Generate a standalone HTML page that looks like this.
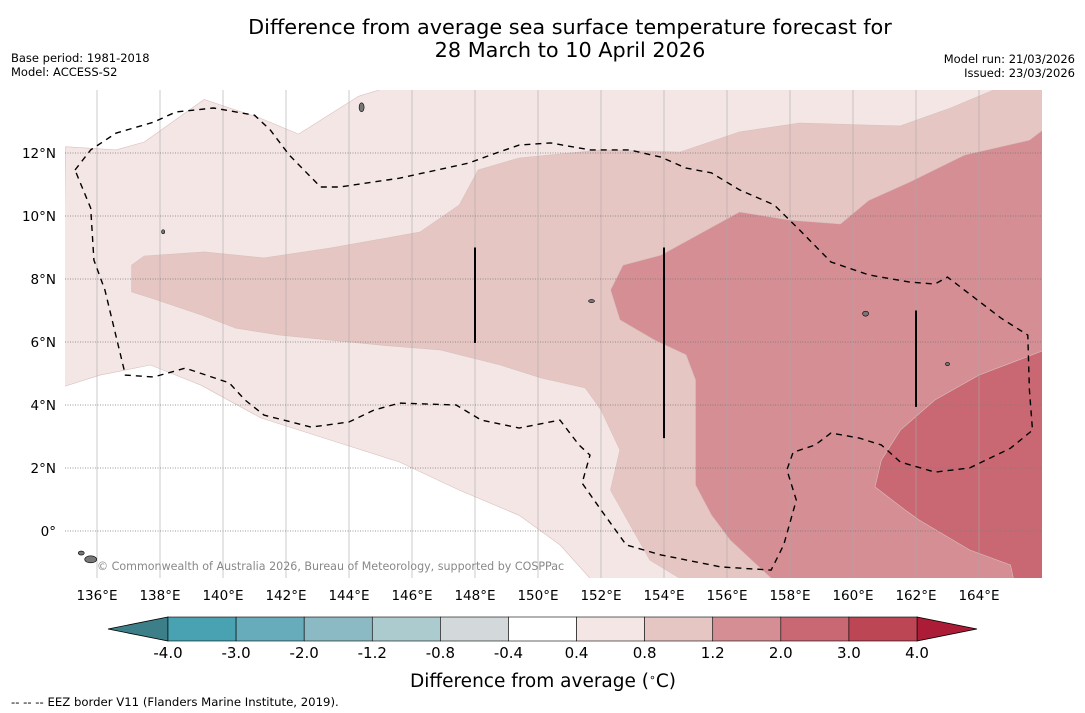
<!DOCTYPE html>
<html><head><meta charset="utf-8"><style>
html,body{margin:0;padding:0;background:#fff;}
body{width:1085px;height:713px;overflow:hidden;font-family:"DejaVu Sans","Liberation Sans",sans-serif;}
svg{display:block}
</style></head><body>
<svg id="chart" width="1085" height="713" viewBox="0 0 1085 713" xmlns="http://www.w3.org/2000/svg">
<text x="570" y="34" text-anchor="middle" font-size="20.8" fill="#000">Difference from average sea surface temperature forecast for</text>
<text x="570" y="57" text-anchor="middle" font-size="20.8" fill="#000">28 March to 10 April 2026</text>
<text x="11" y="62" font-size="11.5">Base period: 1981-2018</text>
<text x="11" y="76" font-size="11.5">Model: ACCESS-S2</text>
<text x="1075" y="63" text-anchor="end" font-size="11.5">Model run: 21/03/2026</text>
<text x="1075" y="77" text-anchor="end" font-size="11.5">Issued: 23/03/2026</text>
<defs><clipPath id="mapclip"><rect x="65" y="90" width="977" height="488"/></clipPath></defs>
<g id="map" clip-path="url(#mapclip)"></g>
<g id="axes"></g>
<g id="cbar"></g>
<text x="543" y="687" text-anchor="middle" font-size="18.5">Difference from average (<tspan font-size="11" dy="-6">∘</tspan><tspan dy="6">C)</tspan></text>
<text x="11" y="706" font-size="11.7">--  --  -- EEZ border V11 (Flanders Marine Institute, 2019).</text>
</svg>
<script>
const lonTicks=[136,138,140,142,144,146,148,150,152,154,156,158,160,162,164];
const latTicks=[0,2,4,6,8,10,12];
const latLabels=["0°","2°N","4°N","6°N","8°N","10°N","12°N"];
const cbarLevels=["-4.0","-3.0","-2.0","-1.2","-0.8","-0.4","0.4","0.8","1.2","2.0","3.0","4.0"];
const cbarColors=["#48a2b2","#66acba","#8bb9c4","#abcbcf","#d3d8da","#ffffff","#f4e6e5","#e6c6c2","#d48e94","#c96872","#bd4655"];
const lowColor="#3d7f88", highColor="#ad1c37";
const lightBand=[[135,12.2],[136.6,12.1],[137.5,12.35],[139.4,13.7],[141.2,13.1],[142.4,12.6],[144.3,13.8],[145.6,14.2],[166.5,14.2],[166.5,-2],[151.8,-2],[151.65,-1.5],[150.7,-0.44],[149.4,0.5],[147.5,1.3],[145.6,2.19],[143.4,2.89],[141.2,3.59],[139.3,4.63],[137.7,5.27],[136.1,4.95],[134.9,4.57]];
const medBand=[[137.1,8.44],[137.5,8.73],[139.4,8.86],[141.3,8.67],[143.4,8.98],[146.25,9.49],[147.5,10.35],[148.1,11.46],[149.4,11.84],[152.0,12.1],[154.5,12.03],[156.4,12.67],[158.3,12.95],[161.5,12.86],[163.1,13.43],[164.7,14.1],[166.5,14.2],[166.5,-2],[154.6,-2],[154.5,-1.5],[153.55,-0.92],[152.3,1.3],[152.6,2.57],[152.0,3.84],[151.5,4.54],[150.1,4.86],[148.8,5.27],[146.9,5.75],[145.0,5.9],[143.4,6.06],[141.8,6.22],[140.4,6.44],[139.3,6.86],[137.7,7.4],[137.1,7.59]];
const darkBand=[[152.3,7.65],[152.7,8.44],[153.9,8.76],[156.4,10.13],[158.0,9.87],[159.6,9.75],[160.5,10.5],[161.8,11.08],[163.55,11.94],[165.6,12.41],[166.5,13.1],[166.5,-2],[157.5,-2],[157.4,-1.5],[156.1,-0.29],[155.5,0.51],[155.0,1.46],[155.0,4.79],[154.7,5.59],[153.7,6.06],[152.6,6.7]];
const darkestBand=[[160.7,1.4],[160.9,2.25],[161.5,3.2],[162.6,4.16],[164.0,4.95],[166.5,5.9],[166.5,-2],[165.2,-2],[165.0,-1.08],[163.7,-0.6],[162.1,0.35],[161.65,0.67]];
const eez=[[135.3,11.46],[135.8,12.1],[136.6,12.63],[137.8,12.98],[138.5,13.3],[139.7,13.43],[141.0,13.2],[141.5,12.73],[142.1,11.94],[143.1,10.92],[143.7,10.92],[145.6,11.2],[147.8,11.68],[148.5,11.94],[149.4,12.25],[150.4,12.32],[151.65,12.1],[152.9,12.1],[153.9,11.87],[154.7,11.52],[155.5,11.37],[156.4,10.83],[157.5,10.35],[158.3,9.56],[159.3,8.54],[160.5,8.13],[161.8,7.9],[162.6,7.84],[163.0,8.06],[164.7,6.76],[165.55,6.22],[165.6,4.48],[165.7,3.2],[165.0,2.63],[163.7,2.0],[162.6,1.87],[161.5,2.19],[160.9,2.73],[160.2,2.95],[159.3,3.11],[158.8,2.73],[158.1,2.5],[157.9,1.94],[158.2,0.98],[157.8,-0.44],[157.4,-1.24],[155.8,-1.14],[153.9,-0.76],[152.8,-0.44],[152.0,0.67],[151.4,1.52],[151.65,2.41],[151.3,2.73],[150.7,3.52],[149.4,3.27],[148.2,3.52],[147.4,4.0],[145.6,4.06],[144.8,3.84],[144.0,3.46],[142.8,3.3],[141.3,3.68],[140.7,4.16],[140.2,4.7],[138.8,5.17],[137.8,4.89],[136.9,4.95],[136.25,7.65],[135.9,8.6],[135.8,10.25],[135.3,11.46]];
const barLons=[148,154,162];
const barTops=[9.0,9.0,7.0];
const barBottoms=[5.97,2.95,3.94];
const islands=[[144.4,13.45,2.5,4.5],[138.1,9.5,1.5,2],[160.4,6.9,3,2.5],[163.0,5.3,2,1.5],[151.7,7.3,3,1.5],[135.8,-0.9,6,3.5],[135.5,-0.7,3,2]];

const NS="http://www.w3.org/2000/svg";
const X=lon=>97+(lon-136)*31.5;
const Y=lat=>531-lat*31.5;
function mk(tag,parent,attrs){const e=document.createElementNS(NS,tag);for(const k in attrs)e.setAttribute(k,attrs[k]);parent.appendChild(e);return e;}
const map=document.getElementById('map'), axes=document.getElementById('axes'), cb=document.getElementById('cbar');
const pts=a=>a.map(p=>X(p[0]).toFixed(1)+","+Y(p[1]).toFixed(1)).join(" ");
const bands=[[lightBand,"#f4e6e5","band-0.4-0.8"],[medBand,"#e6c6c2","band-0.8-1.2"],[darkBand,"#d48e94","band-1.2-2.0"],[darkestBand,"#c96872","band-2.0-3.0"]];
bands.forEach(b=>{
  const p=mk('polygon',map,{points:pts(b[0]),fill:b[1],stroke:"#d8c0bf","stroke-width":"0.6"});
  
  
});
lonTicks.forEach(l=>{
  const g=mk('line',map,{x1:X(l),x2:X(l),y1:90,y2:578,stroke:"#a8a8a8","stroke-width":"0.6"});
  
  
  const t=mk('text',axes,{x:X(l),y:600,"text-anchor":"middle","font-size":"13.5"});
  t.textContent=l+"°E";
  
  
});
latTicks.forEach((l,i)=>{
  const g=mk('line',map,{x1:65,x2:1042,y1:Y(l),y2:Y(l),stroke:"#777","stroke-width":"0.8","stroke-dasharray":"1,1.5"});
  
  
  const t=mk('text',axes,{x:56,y:Y(l)+5,"text-anchor":"end","font-size":"13.5"});
  t.textContent=latLabels[i];
  
  
});
islands.forEach(s=>{
  const e=mk('ellipse',map,{cx:X(s[0]),cy:Y(s[1]),rx:s[2],ry:s[3],fill:"#777",stroke:"#000","stroke-width":"0.6"});
  
  
});
const ez=mk('polyline',map,{points:pts(eez),fill:"none",stroke:"#000","stroke-width":"1.4","stroke-dasharray":"6,5"});


barLons.forEach((l,i)=>{
  const b=mk('line',map,{x1:X(l),x2:X(l),y1:Y(barTops[i]),y2:Y(barBottoms[i]),stroke:"#000","stroke-width":"2"});
  
  
});
const cr=mk('text',map,{x:97,y:570,"font-size":"11.1",fill:"#888"});
cr.textContent="© Commonwealth of Australia 2026, Bureau of Meteorology, supported by COSPPac";


// colorbar
const cx0=168,cx1=917,cy0=617,cy1=641,n=cbarColors.length,w=(cx1-cx0)/n;
const lt=mk('polygon',cb,{points:`${cx0},${cy0} ${cx0},${cy1} 108,${(cy0+cy1)/2}`,fill:lowColor,stroke:"#000","stroke-width":"0.8"});


const rt=mk('polygon',cb,{points:`${cx1},${cy0} ${cx1},${cy1} 977,${(cy0+cy1)/2}`,fill:highColor,stroke:"#000","stroke-width":"0.8"});


cbarColors.forEach((c,i)=>{
  const r=mk('rect',cb,{x:cx0+i*w,y:cy0,width:w,height:cy1-cy0,fill:c,stroke:"#000","stroke-width":"0.6"});
  
  
});
cbarLevels.forEach((v,i)=>{
  const t=mk('text',cb,{x:cx0+i*w,y:658,"text-anchor":"middle","font-size":"15"});
  t.textContent=v;
  
  
});
</script>
</body></html>
